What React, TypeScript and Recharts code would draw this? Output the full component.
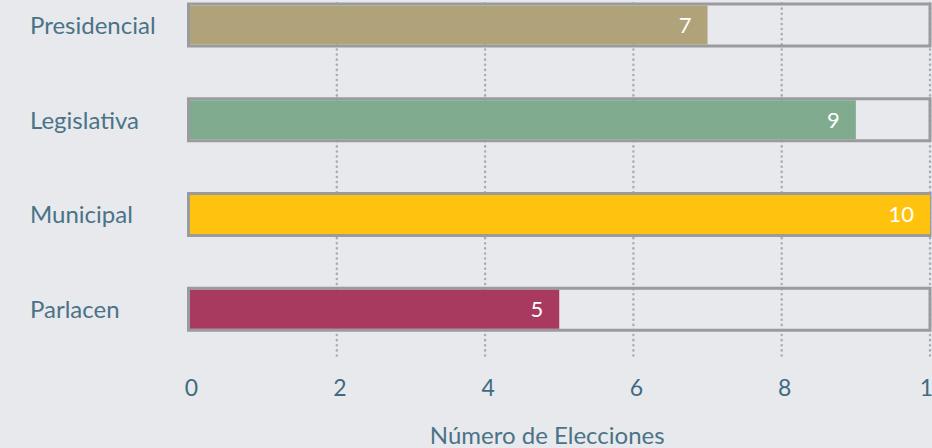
import React from 'react';
import { BarChart, Bar, XAxis, YAxis, CartesianGrid, Cell, LabelList } from 'recharts';

const categories = ['Presidencial', 'Legislativa', 'Municipal', 'Parlacen'];
const values = [7, 9, 10, 5];
const colors = ['#b0a37a', '#80ab8e', '#ffc30f', '#a83a60'];
const xTicks = [0, 2, 4, 6, 8, 10];
const gridValues = [2, 4, 6, 8, 10];
const xTitle = 'Número de Elecciones';

const data = categories.map((name, i) => ({ name, value: values[i] }));

const BG = '#e8e9ed';
const TEXT = '#4a7387';
const FONT = 'Lato, "Open Sans", sans-serif';

const YTick = (props: any) => {
  const { y, payload } = props;
  return (
    <text x={30} y={y - 1} dominantBaseline="central" textAnchor="start" fill={TEXT} fontSize={24} fontFamily={FONT}>
      {payload.value}
    </text>
  );
};

const XTick = (props: any) => {
  const { x, y, payload } = props;
  return (
    <text x={x + 3} y={y + 30} dominantBaseline="central" textAnchor="middle" fill="#3f6b81" fontSize={23} fontFamily={FONT}>
      {payload.value}
    </text>
  );
};

const BarShape = (props: any) => {
  const { x, y, width, height, fill } = props;
  if (!width || width <= 0) return null;
  return <rect x={x + 1.5} y={y + 1.5} width={Math.max(0, width - 1.5)} height={Math.max(0, height - 3)} fill={fill} />;
};

export default function App() {
  return (
    <div style={{ position: 'absolute', left: 0, top: 0, width: 932, height: 448, overflow: 'hidden', background: BG }}>
      <div style={{ position: 'absolute', left: 0, top: -60 }}>
        <BarChart
          width={960}
          height={560}
          data={data}
          layout="vertical"
          margin={{ top: 38, right: 30, bottom: 0, left: 0 }}
          barSize={42}
        >
          <CartesianGrid
            horizontal={false}
            vertical={true}
            verticalValues={gridValues}
            stroke="#a4adb8"
            strokeWidth={2.5}
            strokeDasharray="0.1 5"
            strokeLinecap="round"
          />
          <XAxis
            type="number"
            domain={[0, 10]}
            ticks={xTicks}
            axisLine={false}
            tickLine={false}
            tickSize={0}
            tickMargin={0}
            height={143}
            tick={<XTick />}
            interval={0}
            label={{
              value: xTitle,
              content: (p: any) => {
                const vb = p.viewBox;
                return (
                  <text x={vb.x + vb.width / 2 - 12} y={vb.y + 77} dominantBaseline="central" textAnchor="middle" fill={TEXT} fontSize={24} fontFamily={FONT}>
                    {xTitle}
                  </text>
                );
              },
            }}
          />
          <YAxis
            type="category"
            dataKey="name"
            width={188.5}
            axisLine={false}
            tickLine={false}
            tick={<YTick />}
            interval={0}
          />
          <Bar
            dataKey="value"
            isAnimationActive={false}
            background={{ fill: 'none', stroke: '#9a9b9e', strokeWidth: 3 }}
            shape={<BarShape />}
          >
            {data.map((d, i) => (
              <Cell key={d.name} fill={colors[i]} />
            ))}
            <LabelList dataKey="value" position="insideRight" offset={16} fill="#ffffff" fontSize={22} fontFamily={FONT} />
          </Bar>
        </BarChart>
      </div>
    </div>
  );
}
